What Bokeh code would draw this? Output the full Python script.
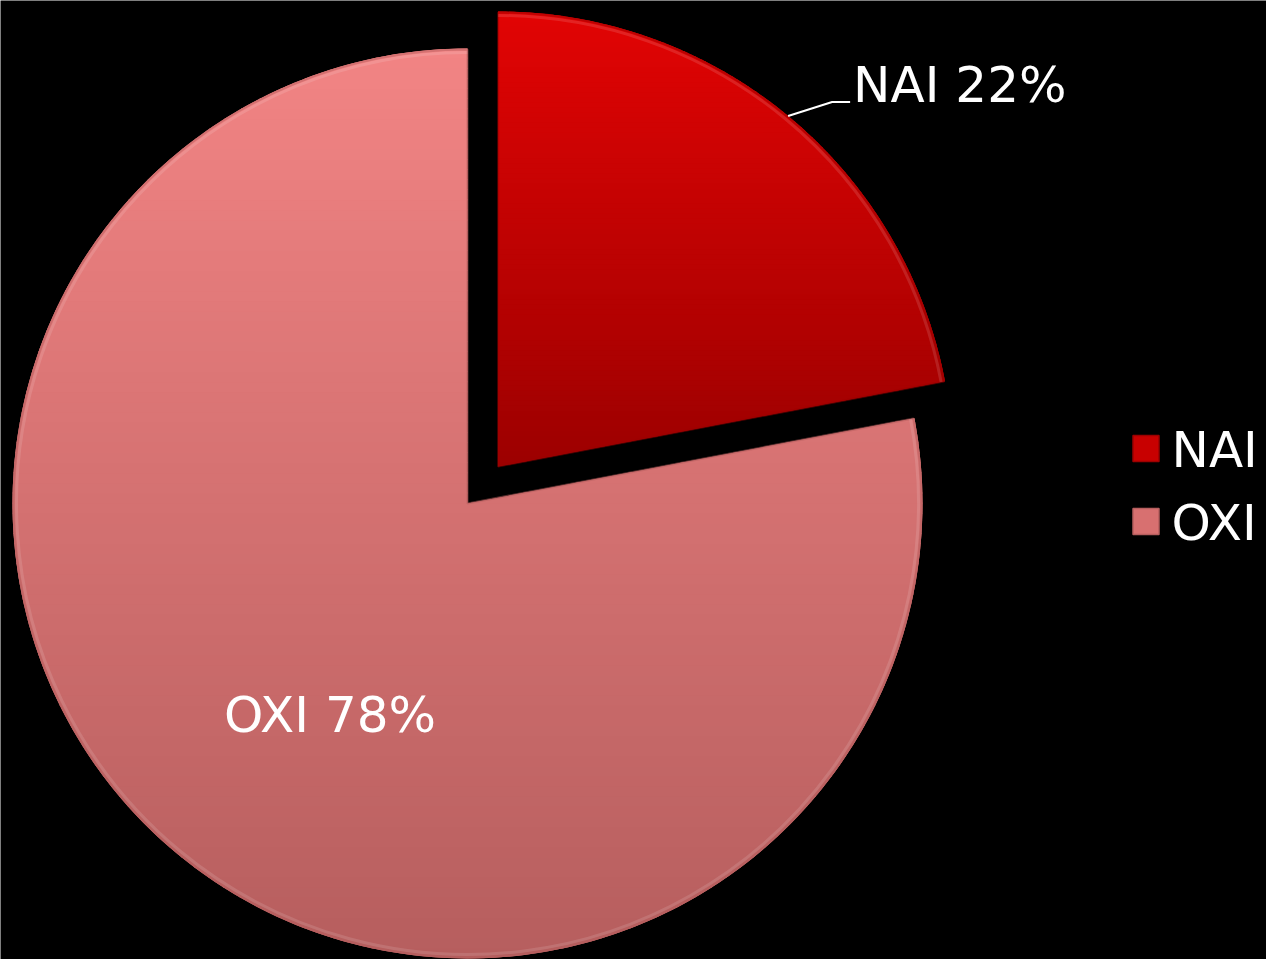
import numpy as np
from bokeh.plotting import figure
from bokeh.models import Range1d
from bokeh.core.properties import value
from bokeh.embed import file_html
from bokeh.resources import INLINE

# ---- data ----
categories = ["NAI", "OXI"]
shares = [22, 78]
slice_labels = ["NAI 22%", "OXI 78%"]
top_colors = ["#E20404", "#F28484"]
bottom_colors = ["#9C0000", "#B65E5E"]
legend_colors = ["#C80000", "#D87070"]

# ---- layout ----
W, H = 1266, 959
CX, CY, R = 467, 456, 455
EXPLODE = [48, 0]
FONT = "DejaVu Sans"
FS = "50px"
NBANDS = 90

p = figure(width=W, height=H, x_range=Range1d(0, W), y_range=Range1d(0, H),
           output_backend="svg", toolbar_location=None,
           x_axis_type=None, y_axis_type=None,
           background_fill_color="black", border_fill_color="black",
           min_border=0, outline_line_color=None)
p.grid.visible = False


def hex2rgb(h):
    h = h.lstrip("#")
    return np.array([int(h[i:i + 2], 16) for i in (0, 2, 4)], dtype=float)


def rgb2hex(c):
    c = np.clip(np.round(c), 0, 255).astype(int)
    return "#%02x%02x%02x" % tuple(c)


def clip_band(pts, ylo, yhi):
    for bound, above in ((ylo, True), (yhi, False)):
        out = []
        n = len(pts)
        if n == 0:
            return []
        for i in range(n):
            cur, prev = pts[i], pts[i - 1]
            cin = cur[1] >= bound if above else cur[1] <= bound
            pin = prev[1] >= bound if above else prev[1] <= bound
            if cin:
                if not pin:
                    t = (bound - prev[1]) / (cur[1] - prev[1])
                    out.append((prev[0] + t * (cur[0] - prev[0]), bound))
                out.append(cur)
            elif pin:
                t = (bound - prev[1]) / (cur[1] - prev[1])
                out.append((prev[0] + t * (cur[0] - prev[0]), bound))
        pts = out
    return pts


total = float(sum(shares))
cum = np.concatenate([[0], np.cumsum(shares)]) / total
a_start = np.radians(90 - 360 * cum[:-1])  # clockwise from 12 o'clock
a_end = np.radians(90 - 360 * cum[1:])
mids = (a_start + a_end) / 2

centers = []
for i in range(len(categories)):
    cx = CX + EXPLODE[i] * np.cos(mids[i])
    cy = CY + EXPLODE[i] * np.sin(mids[i])
    centers.append((cx, cy))

# base wedges (mid colour) under the gradient bands
mid_cols = [rgb2hex((hex2rgb(a) + hex2rgb(b)) / 2) for a, b in zip(top_colors, bottom_colors)]
p.wedge(x=[c[0] for c in centers], y=[c[1] for c in centers], radius=R,
        start_angle=list(a_end), end_angle=list(a_start),
        fill_color=mid_cols, line_color=None)

band_xs, band_ys, band_cols = [], [], []
for i in range(len(categories)):
    cx, cy = centers[i]
    th = np.linspace(a_start[i], a_end[i], 240)
    poly = [(cx, cy)] + [(cx + R * np.cos(t), cy + R * np.sin(t)) for t in th]
    ys = [q[1] for q in poly]
    ylo, yhi = min(ys), max(ys)
    ctop, cbot = hex2rgb(top_colors[i]), hex2rgb(bottom_colors[i])
    edges = np.linspace(ylo, yhi, NBANDS + 1)
    for k in range(NBANDS):
        piece = clip_band(poly, edges[k], min(edges[k + 1] + 0.8, yhi))
        if len(piece) < 3:
            continue
        f = ((edges[k] + edges[k + 1]) / 2 - ylo) / (yhi - ylo)
        band_xs.append([q[0] for q in piece])
        band_ys.append([q[1] for q in piece])
        band_cols.append(rgb2hex(cbot + (ctop - cbot) * f))

p.patches(band_xs, band_ys, fill_color=band_cols, line_color=None)

# subtle bevel: light rim on the arc, darker outline
for i in range(len(categories)):
    cx, cy = centers[i]
    p.wedge(x=[cx], y=[cy], radius=R - 1, start_angle=[a_end[i]], end_angle=[a_start[i]],
            fill_color=None, line_color=bottom_colors[i], line_width=2, line_alpha=0.5)
    p.arc(x=[cx], y=[cy], radius=R - 4, start_angle=[a_end[i]], end_angle=[a_start[i]],
          line_color="white", line_width=3, line_alpha=0.12)

# NAI label with leader line (outside)
cx, cy = centers[0]
lx0 = cx + R * np.cos(mids[0])
ly0 = cy + R * np.sin(mids[0])
lx1, ly1 = lx0 + 44, ly0 + 14
lx2 = lx1 + 18
p.line([lx0, lx1, lx2], [ly0, ly1, ly1], line_color="white", line_width=2)
p.text(x=[lx2 + 3], y=[ly1 + 17], text=[slice_labels[0]], text_color="white",
       text_font=value(FONT), text_font_size=FS, text_align="left",
       text_baseline="middle")

# OXI label inside
cx, cy = centers[1]
ox = cx + 0.55 * R * np.cos(mids[1])
oy = cy + 0.55 * R * np.sin(mids[1])
p.text(x=[ox], y=[oy], text=[slice_labels[1]], text_color="white",
       text_font=value(FONT), text_font_size=FS, text_align="center",
       text_baseline="middle", x_offset=22, y_offset=19)

# legend
LX, LY, LSTEP = 1145.5, 511, 73
leg_y = [LY - LSTEP * i for i in range(len(categories))]
p.scatter(x=[LX] * len(categories), y=leg_y, marker="square", size=26,
          fill_color=legend_colors, line_color=bottom_colors, line_width=1.5)
p.text(x=[LX + 25.5] * len(categories), y=[v - 1 for v in leg_y], text=categories,
       text_color="white", text_font=value(FONT), text_font_size=FS,
       text_align="left", text_baseline="middle")

open("out.html", "w").write(file_html(p, INLINE))
